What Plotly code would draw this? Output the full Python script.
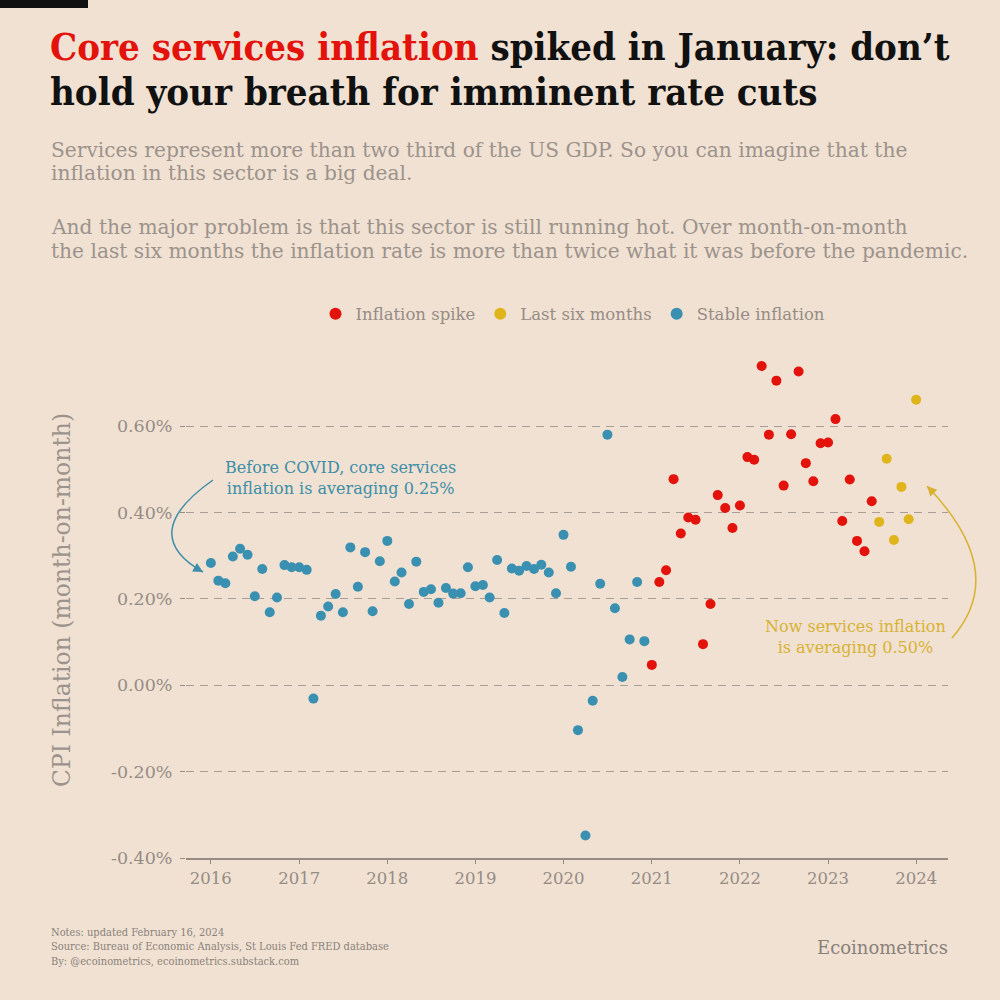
import plotly.graph_objects as go
import pandas as pd

# ---------------- data ----------------
stable_start = "2016-01-01"
stable_values = [
    0.283, 0.242, 0.236, 0.298, 0.316, 0.302, 0.206, 0.269, 0.169, 0.203, 0.278, 0.273,
    0.273, 0.267, -0.031, 0.161, 0.182, 0.211, 0.169, 0.319, 0.228, 0.308, 0.171, 0.287,
    0.334, 0.240, 0.261, 0.188, 0.286, 0.216, 0.222, 0.191, 0.225, 0.212, 0.213, 0.273,
    0.229, 0.232, 0.203, 0.290, 0.167, 0.270, 0.265, 0.276, 0.269, 0.279, 0.261, 0.213,
    0.348, 0.274, -0.104, -0.348, -0.036, 0.235, 0.580, 0.178, 0.019, 0.106, 0.239, 0.102,
]
spike_start = "2021-01-01"
spike_values = [
    0.047, 0.239, 0.266, 0.477, 0.351, 0.388, 0.383, 0.095, 0.188, 0.440, 0.410, 0.364,
    0.416, 0.528, 0.522, 0.739, 0.580, 0.705, 0.462, 0.581, 0.726, 0.514, 0.472, 0.560,
    0.562, 0.616, 0.380, 0.476, 0.334, 0.310, 0.426,
]
recent_start = "2023-08-01"
recent_values = [0.378, 0.524, 0.336, 0.459, 0.384, 0.661]

series_names = ["Inflation spike", "Last six months", "Stable inflation"]
series_colors = ["#e3120b", "#e0b51c", "#3a90b0"]

y_ticks = [-0.4, -0.2, 0.0, 0.2, 0.4, 0.6]
y_ticklabels = ["-0.40%", "-0.20%", "0.00%", "0.20%", "0.40%", "0.60%"]
x_ticks = [f"{y}-01-01" for y in range(2016, 2025)]
x_ticklabels = [str(y) for y in range(2016, 2025)]

def dates(start, n):
    return pd.date_range(start, periods=n, freq="MS")

# ---------------- styles ----------------
BG = "#f0e1d2"
GRAY = "#968c85"
GRID = "#a59d96"
BODY_FONT = "DejaVu Serif"
COND_FONT = "DejaVu Serif Condensed"

fig = go.Figure()
series = [
    (dates(spike_start, len(spike_values)), spike_values),
    (dates(recent_start, len(recent_values)), recent_values),
    (dates(stable_start, len(stable_values)), stable_values),
]
for (xs, ys), name, col in zip(series, series_names, series_colors):
    fig.add_trace(go.Scatter(
        x=xs, y=ys, mode="markers", name=name,
        marker=dict(color=col, size=10, line=dict(width=0)),
    ))

L, R, T, B = 186, 52, 350, 142
W = H = 1000
pw, ph = W - L - R, H - T - B

def px(x):
    return (x - L) / pw

def py(y):
    return (H - B - y) / ph

fig.update_layout(
    width=W, height=H,
    paper_bgcolor=BG, plot_bgcolor=BG,
    margin=dict(l=L, r=R, t=T, b=B),
    showlegend=True,
    legend=dict(
        orientation="h", x=px(573), xanchor="center", y=py(314), yanchor="middle",
        font=dict(family=BODY_FONT, size=16.5, color=GRAY),
        itemsizing="constant", itemwidth=30, bgcolor="rgba(0,0,0,0)",
    ),
    font=dict(family=BODY_FONT, color=GRAY),
)

fig.update_xaxes(
    type="date",
    range=["2015-09-20", "2024-05-12"],
    tickvals=x_ticks, ticktext=x_ticklabels,
    tickfont=dict(family=BODY_FONT, size=16.5, color=GRAY),
    showgrid=False, zeroline=False,
    showline=True, linecolor=GRAY, linewidth=1.5,
    ticks="outside", ticklen=4, tickcolor=GRAY, tickwidth=1,
)
fig.update_yaxes(
    range=[-0.4, -0.4 + ph / 432],
    tickvals=y_ticks, ticktext=y_ticklabels,
    tickfont=dict(family=BODY_FONT, size=17.5, color=GRAY),
    ticklabelstandoff=4,
    showgrid=True, gridcolor=GRID, griddash="8px,6px", gridwidth=1.2,
    zeroline=False, showline=False,
    ticks="outside", ticklen=5, tickcolor=GRAY,
)

# y-axis title
fig.add_annotation(
    xref="paper", yref="paper", x=px(62), y=py(600), xanchor="center", yanchor="middle",
    showarrow=False, textangle=-90, text="CPI Inflation (month-on-month)",
    font=dict(family=BODY_FONT, size=23.5, color="#9c938c"),
)

# ---------------- header texts ----------------
fig.add_shape(type="rect", xref="paper", yref="paper",
              x0=px(0), x1=px(88), y0=py(0), y1=py(8),
              fillcolor="#111111", line=dict(width=0), layer="above")

title_lines = [
    "<span style='color:#e3120b'>Core services inflation</span> spiked in January: don’t",
    "hold your breath for imminent rate cuts",
]
for line, yc in zip(title_lines, [46, 91]):
    fig.add_annotation(
        xref="paper", yref="paper", x=px(48), y=py(yc), xanchor="left", yanchor="middle",
        align="left", showarrow=False, text=line,
        font=dict(family=COND_FONT, size=38, color="#111111", weight="bold"),
    )

sub_lines = [
    "Services represent more than two third of the US GDP. So you can imagine that the",
    "inflation in this sector is a big deal.",
    "And the major problem is that this sector is still running hot. Over month-on-month",
    "the last six months the inflation rate is more than twice what it was before the pandemic.",
]
for line, yc in zip(sub_lines, [150, 173, 227, 251]):
    fig.add_annotation(
        xref="paper", yref="paper", x=px(49), y=py(yc), xanchor="left", yanchor="middle",
        align="left", showarrow=False, text=line,
        font=dict(family=BODY_FONT, size=20.2, color="#9c938c"),
    )

# ---------------- chart annotations ----------------
TEAL = "#3d8ea8"
GOLD = "#d8b233"
fig.add_annotation(
    xref="paper", yref="paper", x=px(340), y=py(478), xanchor="center", yanchor="middle",
    showarrow=False, align="center",
    text="Before COVID, core services<br>inflation is averaging 0.25%",
    font=dict(family=BODY_FONT, size=16, color=TEAL),
)
fig.add_annotation(
    xref="paper", yref="paper", x=px(855), y=py(637), xanchor="center", yanchor="middle",
    showarrow=False, align="center",
    text="Now services inflation<br>is averaging 0.50%",
    font=dict(family=BODY_FONT, size=16, color=GOLD),
)

def curve(p0, c, p2, color):
    path = "M {} {} Q {} {} {} {}".format(px(p0[0]), py(p0[1]), px(c[0]), py(c[1]), px(p2[0]), py(p2[1]))
    fig.add_shape(type="path", xref="paper", yref="paper", path=path,
                  line=dict(color=color, width=1.5), layer="above")
    dx, dy = p2[0] - c[0], p2[1] - c[1]
    n = (dx * dx + dy * dy) ** 0.5
    fig.add_annotation(xref="paper", yref="paper", x=px(p2[0]), y=py(p2[1]),
                       ax=-dx / n * 8, ay=-dy / n * 8, axref="pixel", ayref="pixel",
                       showarrow=True, arrowhead=2, arrowsize=1.3, arrowwidth=1.5,
                       arrowcolor=color, text="")

curve((213, 480), (136, 534), (203, 572), TEAL)
curve((952, 638), (1010, 572), (927, 486), GOLD)

# ---------------- footer ----------------
fig.add_annotation(
    xref="paper", yref="paper", x=px(49), y=py(947), xanchor="left", yanchor="middle",
    align="left", showarrow=False,
    text=("Notes: updated February 16, 2024<br>"
          "Source: Bureau of Economic Analysis, St Louis Fed FRED database<br>"
          "By: @ecoinometrics, ecoinometrics.substack.com"),
    font=dict(family=COND_FONT, size=11, color="#8a817a"),
)
fig.add_annotation(
    xref="paper", yref="paper", x=px(950), y=py(947), xanchor="right", yanchor="middle",
    showarrow=False, text="Ecoinometrics",
    font=dict(family=BODY_FONT, size=18, color="#8a817a"),
)

fig.write_html(
    "out.html",
    config={"displayModeBar": False},
    post_script="document.body.style.margin='0';document.body.style.overflow='hidden';",
)
